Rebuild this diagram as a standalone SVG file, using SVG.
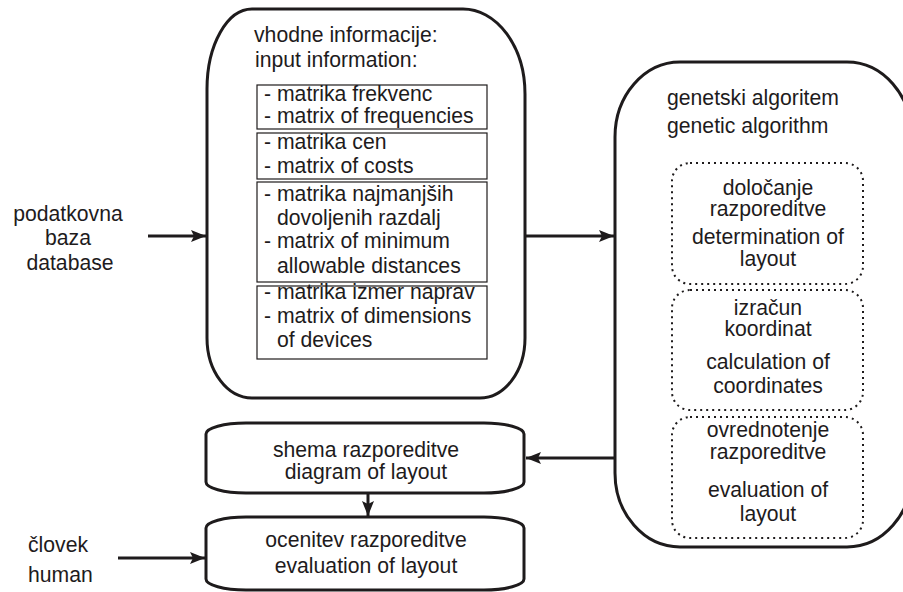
<svg xmlns="http://www.w3.org/2000/svg" width="903" height="592" viewBox="0 0 903 592">
<defs>
<style>
text{font-family:"Liberation Sans",Arial,sans-serif;font-size:21.2px;fill:#1e1b1c}
.c{text-anchor:middle}
.big{fill:#fff;stroke:#1e1b1c;stroke-width:3}
.inner{fill:none;stroke:#1e1b1c;stroke-width:1.2}
.dot{fill:none;stroke:#1e1b1c;stroke-width:2;stroke-dasharray:2 4}
.con{fill:none;stroke:#1e1b1c;stroke-width:3}
</style>
<marker id="ah" markerUnits="userSpaceOnUse" markerWidth="16" markerHeight="14" viewBox="-16 -7 16 14" refX="0" refY="0" orient="auto">
<path d="M0,0 L-15,-6 L-12,0 L-15,6 Z" fill="#1e1b1c"/>
</marker>
</defs>

<g id="input">
<path class="big" d="M252 9 H463 A62 85 0 0 1 525 94 V338 A45 60 0 0 1 480 398 H252 A45 60 0 0 1 207 338 V89 A45 80 0 0 1 252 9 Z"/>
<text x="254" y="42">vhodne informacije:</text>
<text x="255" y="67">input information:</text>
<rect class="inner" x="257" y="85" width="230" height="44"/>
<text x="264" y="101">- matrika frekvenc</text>
<text x="264" y="123">- matrix of frequencies</text>
<rect class="inner" x="257" y="133" width="230" height="46"/>
<text x="264" y="149">- matrika cen</text>
<text x="264" y="173">- matrix of costs</text>
<rect class="inner" x="257" y="182" width="230" height="100"/>
<text x="264" y="201">- matrika najmanjših</text>
<text x="277" y="225">dovoljenih razdalj</text>
<text x="264" y="248">- matrix of minimum</text>
<text x="277" y="273">allowable distances</text>
<rect class="inner" x="257" y="286" width="230" height="73"/>
<text x="264" y="299">- matrika izmer naprav</text>
<text x="264" y="323">- matrix of dimensions</text>
<text x="277" y="347">of devices</text>
</g>

<g id="genetic">
<path class="big" d="M680 62 H847 A65 75 0 0 1 912 137 V473 A65 74 0 0 1 847 547 H680 A65 74 0 0 1 615 473 V137 A65 75 0 0 1 680 62 Z"/>
<text x="667" y="105">genetski algoritem</text>
<text x="667" y="133">genetic algorithm</text>
</g>

<g id="determination">
<rect class="dot" x="672" y="163" width="191" height="121" rx="18" ry="18"/>
<text class="c" x="768" y="195">določanje</text>
<text class="c" x="768" y="216">razporeditve</text>
<text class="c" x="768" y="244">determination of</text>
<text class="c" x="768" y="266">layout</text>
</g>

<g id="calculation">
<rect class="dot" x="672" y="290" width="191" height="120" rx="18" ry="18"/>
<text class="c" x="768" y="315">izračun</text>
<text class="c" x="768" y="336">koordinat</text>
<text class="c" x="768" y="369">calculation of</text>
<text class="c" x="768" y="393">coordinates</text>
</g>

<g id="evaluation">
<rect class="dot" x="672" y="417" width="191" height="121" rx="18" ry="18"/>
<text class="c" x="768" y="437">ovrednotenje</text>
<text class="c" x="768" y="459">razporeditve</text>
<text class="c" x="768" y="497">evaluation of</text>
<text class="c" x="768" y="521">layout</text>
</g>

<g id="database">
<text class="c" x="68" y="221">podatkovna</text>
<text class="c" x="68" y="245">baza</text>
<text class="c" x="70" y="270">database</text>
</g>

<g id="diagram">
<rect class="big" x="206" y="423" width="318" height="70" rx="40" ry="11"/>
<text class="c" x="366" y="457">shema razporeditve</text>
<text class="c" x="366" y="479">diagram of layout</text>
</g>

<g id="assessment">
<rect class="big" x="206" y="517" width="318" height="73" rx="40" ry="11"/>
<text class="c" x="366" y="547">ocenitev razporeditve</text>
<text class="c" x="366" y="573">evaluation of layout</text>
</g>

<g id="human">
<text x="28" y="552">človek</text>
<text x="28" y="582">human</text>
</g>

<g id="connectors">
<line class="con" x1="148" y1="236" x2="206" y2="236" marker-end="url(#ah)"/>
<line class="con" x1="525" y1="236" x2="614" y2="236" marker-end="url(#ah)"/>
<line class="con" x1="615" y1="458" x2="526" y2="458" marker-end="url(#ah)"/>
<line class="con" x1="368" y1="493" x2="368" y2="516" marker-end="url(#ah)"/>
<line class="con" x1="118" y1="558" x2="205" y2="558" marker-end="url(#ah)"/>
</g>
</svg>
